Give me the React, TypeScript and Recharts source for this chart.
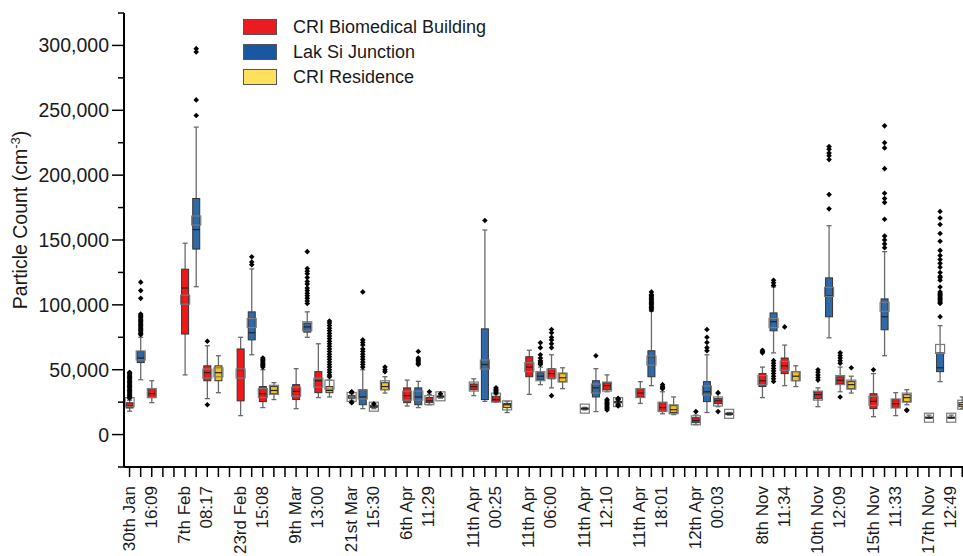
import React from 'react';
import { ComposedChart, Bar, XAxis, YAxis, Legend } from 'recharts';

const FONT = '"Liberation Sans", Arial, sans-serif';

const sites: Record<string, { name: string; fill: string; swatch: string }> = {
  cri: { name: 'CRI Biomedical Building', fill: '#f01818', swatch: '#ea1c22' },
  lak: { name: 'Lak Si Junction', fill: '#2f69a7', swatch: '#1b56a2' },
  res: { name: 'CRI Residence', fill: '#f2c31a', swatch: '#fde15c' },
  low: { name: '', fill: '#f2f2f2', swatch: '#f2f2f2' },
};
const legendOrder = ['cri', 'lak', 'res'];

const sessions = [
  ['30th Jan', '16:09'],
  ['7th Feb', '08:17'],
  ['23rd Feb', '15:08'],
  ['9th Mar', '13:00'],
  ['21st Mar', '15:30'],
  ['6th Apr', '11:29'],
  ['11th Apr', '00:25'],
  ['11th Apr', '06:00'],
  ['11th Apr', '12:10'],
  ['11th Apr', '18:01'],
  ['12th Apr', '00:03'],
  ['8th Nov', '11:34'],
  ['10th Nov', '12:09'],
  ['15th Nov', '11:33'],
  ['17th Nov', '12:49'],
];
// empty category slots after each session
const gapAfter = [1, 1, 1, 1, 1, 2, 1, 1, 1, 1, 2, 1, 1, 1, 2];

// values in thousands: [site, whisker low, Q1, median, Q3, whisker high, mean]
type Stat = [string, number, number, number, number, number, number];
const boxStats: (Stat | null)[][] = [
  [['cri', 18, 20.5, 22, 24.5, 26.5, 25], ['lak', 42.3, 55.5, 59, 64, 75, 61], ['cri', 24.6, 28.5, 31.5, 35.4, 41.5, 32], null],
  [['cri', 46, 77.5, 113, 127.5, 147.5, 104], ['lak', 114, 143, 158, 182, 237, 165], ['cri', 27.7, 41.5, 47.7, 53, 68.5, 47], ['res', 32.3, 41.5, 47.7, 53, 60.8, 48]],
  [['cri', 14.6, 26, 50, 66, 75, 47], ['lak', 61.5, 73, 78.5, 94.6, 127.7, 86], ['cri', 20.8, 25.4, 31.5, 37, 50, 32], ['res', 27, 31.5, 34, 37, 40, 34.5]],
  [['cri', 20, 27, 33.3, 38.5, 50.8, 33], ['lak', 75, 79, 83, 86, 94.6, 83.5], ['cri', 28.5, 32.3, 41.5, 48.5, 70, 40], ['res', 29, 32.3, 34, 37, 42, 38.5]],
  [['low', 26.5, 28, 29, 30, 31.5, 29], ['lak', 20, 23, 29, 34.6, 50, 31], ['low', 20, 21, 21.5, 22.5, 23, 21.5], ['res', 32, 34.6, 37, 40, 44.6, 38]],
  [['cri', 22, 24.6, 30, 36, 42, 30], ['lak', 20.8, 23, 29, 36, 41, 30], ['cri', 23, 24.6, 26, 28.5, 31, 26.5], ['low', 28, 28.8, 29.3, 29.8, 30.5, 29.5]],
  [['cri', 30, 34.6, 37, 39, 43, 37], ['lak', 25.6, 27, 54, 81.5, 157.7, 54], ['cri', 25, 25.6, 27, 29.5, 31, 28.5], ['res', 17, 20.8, 23, 24, 25.5, 22.5]],
  [['cri', 31, 44.6, 52, 60, 65, 52], ['lak', 38.5, 42.3, 45, 47.7, 52, 45], ['cri', 36, 43, 47, 50.8, 61.5, 47], ['res', 35.4, 40.8, 43.8, 47, 51.5, 44]],
  [['low', 19, 19.5, 20, 20.5, 21, 20], ['lak', 17.7, 29, 36, 41.5, 50.8, 35.5], ['cri', 33, 34.6, 37.7, 40, 46, 37], ['low', 24, 24.5, 25, 25.5, 26, 25]],
  [['cri', 24, 29, 32, 35.4, 40.8, 32], ['lak', 37.7, 44.6, 60, 64.6, 95, 57], ['cri', 16, 17.7, 20.8, 24.6, 33, 21.5], ['res', 15.4, 17, 19.2, 22.3, 29, 19.5]],
  [['cri', 7.7, 9.2, 10.8, 13, 15, 11], ['lak', 17, 25.4, 33, 40.8, 61.5, 34], ['cri', 21.5, 23.8, 26, 27.7, 31.5, 25.5], ['low', 15, 15.5, 16, 16.5, 17, 16]],
  [['cri', 28.5, 37, 41.5, 47, 52, 42], ['lak', 63, 80, 87, 93.8, 113.8, 86], ['cri', 37.7, 47, 53, 59, 69, 53], ['res', 37, 41.5, 45, 48.5, 53, 45]],
  [['cri', 21.5, 27.7, 30.8, 33, 36, 30], ['lak', 74.6, 90.8, 107, 120.8, 161, 110], ['cri', 33, 39, 41.8, 44.6, 52, 42], ['res', 32, 35.4, 38.5, 40.8, 45, 38.5]],
  [['cri', 13.8, 20, 25.6, 31.5, 47, 26], ['lak', 60.8, 80.8, 90.8, 104.6, 141, 98.5], ['cri', 14.6, 20.8, 23.8, 27, 32.3, 24], ['res', 23, 25.4, 28.5, 30.8, 34.6, 28.5]],
  [['low', 12.5, 12.8, 13, 13.5, 15, 13], ['lak', 40.8, 48.5, 51.5, 63, 84, 66], ['low', 12.5, 12.8, 13, 13.5, 15, 13], ['res', 20, 21.5, 23, 24.6, 29, 23]],
];

const outlierValues: number[][][] = [
  [[28, 29, 30, 31, 32, 33, 34, 35, 36, 37, 38, 39, 40, 41, 42, 43, 44, 45, 46, 47, 48], [77, 78, 79, 80, 81, 82, 83, 84, 85, 86, 87, 88, 89, 90, 91, 92, 93, 105, 111, 117.5], [], []],
  [[], [246, 258, 295, 297.5], [23, 72], []],
  [[], [131, 133, 137], [52, 53, 54, 55, 56, 57, 58, 59], []],
  [[], [101, 103, 105, 107, 109, 111, 113, 116, 118, 121, 124, 126, 128, 141], [], [44.6, 46, 48, 50, 52, 54, 56, 58, 60, 62, 64, 66, 68, 70, 72, 74, 76, 78, 80, 82, 84, 86, 87.5]],
  [[24.5, 25, 32.5, 33], [52, 54, 56, 58, 60, 62, 64, 66, 69, 71, 73, 110], [23.8], [48.5, 50, 52]],
  [[], [54, 55, 56, 57, 58, 59, 64], [33], [31.5]],
  [[], [165], [32, 33, 34, 35, 36], []],
  [[], [54, 55, 56, 57, 59, 61.5, 67, 70.8], [30, 67, 70, 73, 75, 78.5, 81], []],
  [[], [60.8], [19, 20, 21, 22, 23, 24, 25, 26, 27], [22, 22.5, 23, 27, 27.5, 28]],
  [[], [96, 97, 98, 99, 100, 101, 102, 103, 104, 105, 106, 107, 108, 110], [35.4, 36, 37, 38.5], []],
  [[17.7], [64.6, 67, 71, 75, 81], [17.7, 32.3], []],
  [[63, 64, 65], [41, 43, 45, 47, 49, 51, 53, 55, 57, 115, 117, 119], [83], []],
  [[42, 44, 46, 48, 50], [174, 185, 212, 215, 217, 220, 222], [29, 55, 57, 59, 61, 63], [51.5]],
  [[50], [144, 147, 150, 153, 166, 179, 182, 186, 205, 221, 225, 238], [], [18.5, 19]],
  [[], [90.8, 101, 102, 103, 104, 105, 106, 107, 108, 109, 110, 113.8, 119, 121, 122, 125, 129, 132, 135, 138, 142, 149, 155, 162, 167, 172], [], []],
];

const yTicks = [-25, 0, 25, 50, 75, 100, 125, 150, 175, 200, 225, 250, 275, 300, 325];

type Row = {
  slot: string;
  label: string[] | null;
  site?: string;
  stat?: number[];
  pts?: number[];
  range: number[] | null;
};

const rows: Row[] = [];
sessions.forEach((session, g) => {
  boxStats[g].forEach((b, k) => {
    const slot = `s${rows.length}`;
    const label = k === 1 ? session : null;
    if (!b) {
      rows.push({ slot, label, range: null });
      return;
    }
    const [site, ...stat] = b;
    const pts = outlierValues[g][k] || [];
    const all = [...stat, ...pts];
    rows.push({ slot, label, site, stat, pts, range: [Math.min(...all), Math.max(...all)] });
  });
  for (let i = 0; i < gapAfter[g]; i++) rows.push({ slot: `s${rows.length}`, label: null, range: null });
});
const rowBySlot: Record<string, Row> = {};
rows.forEach((r) => (rowBySlot[r.slot] = r));

const BoxShape = (props: any) => {
  const { x, y, width, height, payload } = props;
  if (!payload || !payload.range || !payload.stat) return null;
  const [lo, hi] = payload.range;
  const py = (v: number) => y + ((hi - v) / (hi - lo)) * height;
  const cx = x + width / 2;
  const [wLo, q1, med, q3, wHi, mean] = payload.stat;
  const fill = sites[payload.site].fill;
  const bw = 3.5;
  return (
    <g>
      <line x1={cx} x2={cx} y1={py(wHi)} y2={py(q3)} stroke="#6a6a6a" strokeWidth={1.3} />
      <line x1={cx} x2={cx} y1={py(q1)} y2={py(wLo)} stroke="#6a6a6a" strokeWidth={1.3} />
      <line x1={cx - 2.5} x2={cx + 2.5} y1={py(wHi)} y2={py(wHi)} stroke="#6a6a6a" strokeWidth={1.3} />
      <line x1={cx - 2.5} x2={cx + 2.5} y1={py(wLo)} y2={py(wLo)} stroke="#6a6a6a" strokeWidth={1.3} />
      <rect x={cx - bw} y={py(q3)} width={bw * 2} height={Math.max(py(q1) - py(q3), 1)} fill={fill} stroke="#333" strokeWidth={1} />
      <line x1={cx - bw} x2={cx + bw} y1={py(med)} y2={py(med)} stroke="#222" strokeWidth={1.2} />
      <rect x={cx - 4.5} y={py(mean) - 4.5} width={9} height={9} fill="none" stroke="#7a7a7a" strokeWidth={1.2} />
      {payload.pts.map((v: number, i: number) => {
        const oy = py(v);
        return <path key={i} d={`M${cx},${oy - 2.8}L${cx + 2.8},${oy}L${cx},${oy + 2.8}L${cx - 2.8},${oy}Z`} fill="#000" />;
      })}
    </g>
  );
};

const XTick = (props: any) => {
  const { x, y, payload } = props;
  const row = rowBySlot[payload.value];
  if (!row || !row.label) return <g />;
  return (
    <text transform={`translate(${x},${y}) rotate(-90)`} textAnchor="end" fontSize={17} fontFamily={FONT} fill="#1a1a1a">
      <tspan x={0} y={-6}>{row.label[0]}</tspan>
      <tspan x={0} y={16}>{row.label[1]}</tspan>
    </text>
  );
};

const YTick = (props: any) => {
  const { x, y, payload } = props;
  const v = payload.value;
  const major = v % 50 === 0;
  return (
    <g>
      <line x1={x - (major ? 12 : 6)} x2={x} y1={y} y2={y} stroke="#000" strokeWidth={1.5} />
      {major && (
        <text x={x - 15} y={y} dy="0.36em" textAnchor="end" fontSize={19.5} fontFamily={FONT} fill="#1a1a1a">
          {(v * 1000).toLocaleString('en-US')}
        </text>
      )}
    </g>
  );
};

const LegendBox = () => (
  <div style={{ fontFamily: FONT }}>
    {legendOrder.map((k) => (
      <div key={k} style={{ display: 'flex', alignItems: 'center', height: 25 }}>
        <div style={{ width: 34, height: 16, background: sites[k].swatch, border: '1px solid #555', boxSizing: 'border-box', marginRight: 16 }} />
        <span style={{ fontSize: 18, color: '#1a1a1a', whiteSpace: 'nowrap' }}>{sites[k].name}</span>
      </div>
    ))}
  </div>
);

const App: React.FC = () => {
  return (
    <div style={{ position: 'absolute', left: 0, top: 0, width: 963, height: 556, overflow: 'hidden', background: '#fff' }}>
      <ComposedChart width={990} height={556} data={rows} margin={{ top: 13, right: 0, bottom: 0, left: 0 }}>
        <XAxis
          dataKey="slot"
          type="category"
          interval={0}
          height={89}
          tickSize={10}
          tickMargin={9}
          stroke="#000"
          axisLine={{ stroke: '#000', strokeWidth: 2 }}
          tickLine={{ stroke: '#000', strokeWidth: 1.5 }}
          tick={<XTick />}
        />
        <YAxis
          type="number"
          width={124}
          domain={[-25, 325]}
          ticks={yTicks}
          interval={0}
          allowDataOverflow
          tickSize={0}
          tickMargin={0}
          tickLine={false}
          axisLine={{ stroke: '#000', strokeWidth: 2 }}
          tick={<YTick />}
          label={{
            content: () => (
              <text transform="translate(27,220) rotate(-90)" textAnchor="middle" fontSize={19.5} fontFamily={FONT} fill="#1a1a1a">
                Particle Count (cm
                <tspan dy={-7} fontSize={13}>-3</tspan>
                <tspan dy={7}>)</tspan>
              </text>
            ),
          }}
        />
        <Legend
          layout="vertical"
          align="center"
          verticalAlign="middle"
          wrapperStyle={{ top: 14.5, left: 243, width: 280 }}
          content={() => <LegendBox />}
        />
        <Bar dataKey="range" shape={<BoxShape />} isAnimationActive={false} />
      </ComposedChart>
    </div>
  );
};

export default App;
